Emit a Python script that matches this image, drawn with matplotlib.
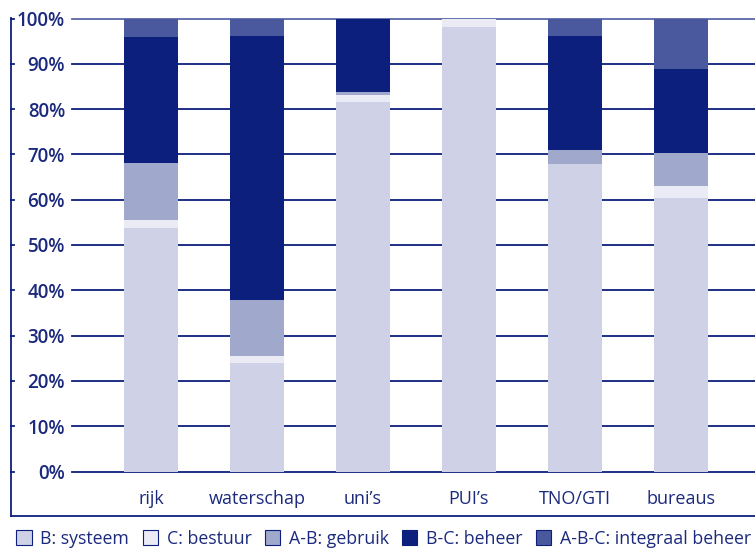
import matplotlib.pyplot as plt
from matplotlib.patches import Patch
from matplotlib.lines import Line2D
import numpy as np

plt.rcParams['font.family'] = ['Open Sans', 'DejaVu Sans']

# categorieën en aandelen per aspect (%)
groepen = ["rijk", "waterschap", "uni’s", "PUI’s", "TNO/GTI", "bureaus"]
systeem = [53.8, 24.0, 81.6, 98.1, 67.9, 60.4]
bestuur = [1.7, 1.5, 1.5, 1.9, 0.0, 2.6]
gebruik = [12.5, 12.4, 0.7, 0.0, 3.1, 7.3]
beheer = [28.0, 58.2, 16.2, 0.0, 25.1, 18.6]
integraal = [4.0, 3.9, 0.0, 0.0, 3.9, 11.1]

labels = ["B: systeem", "C: bestuur", "A-B: gebruik", "B-C: beheer", "A-B-C: integraal beheer"]
kleuren = ["#cfd2e6", "#ebebf5", "#a0a8cb", "#0d1f7c", "#4a589e"]
navy = "#0d1f7c"
tekst = "#1c2a7e"

fig = plt.figure(figsize=(7.55, 5.48), dpi=100)
ax = fig.add_axes([72 / 755, 1 - 471.5 / 548, 1 - 72 / 755, (471.5 - 18.5) / 548])

x = np.arange(len(groepen))
onder = np.zeros(len(groepen))
for waarden, kleur, naam in zip([systeem, bestuur, gebruik, beheer, integraal], kleuren, labels):
    ax.bar(x, waarden, width=0.51, bottom=onder, color=kleur, zorder=2, label=naam)
    onder += np.array(waarden)

# horizontale lijnen achter de staven
for y in range(0, 100, 10):
    ax.axhline(y, color=navy, lw=1.3, zorder=1, clip_on=False)
ax.axhline(100, color="#5a67a8", lw=1.3, zorder=1, clip_on=False)

ax.set_xlim(-0.745, 5.70)
ax.set_ylim(0, 100)
ax.set_yticks(range(0, 101, 10))
ax.set_yticklabels([f"{v}%" for v in range(0, 101, 10)], fontsize=13.5, fontweight="semibold", color=tekst)
ax.set_xticks(x)
ax.set_xticklabels(groepen, fontsize=13, color=tekst)
ax.tick_params(axis="y", length=0, pad=5)
ax.tick_params(axis="x", length=0, pad=13)
for s in ax.spines.values():
    s.set_visible(False)

# kader links en onder, met streepjes op de rasterhoogtes
fx = 11 / 755
fy_top = 1 - 18 / 548
fy_bot = 1 - 516 / 548
fig.add_artist(Line2D([fx, fx], [fy_bot, fy_top], color=navy, lw=1.3))
fig.add_artist(Line2D([fx, 1.0], [fy_bot, fy_bot], color=navy, lw=1.3))
for v in range(0, 101, 10):
    yy = 1 - (471.5 - 4.53 * v) / 548
    fig.add_artist(Line2D([fx, 14 / 755], [yy, yy], color=navy, lw=1.3))

handles = [Patch(facecolor=k, edgecolor=navy, linewidth=0.8) for k in kleuren]
fig.legend(handles, labels, loc="lower left", bbox_to_anchor=(4 / 755, -0.022), ncol=5,
           frameon=False, fontsize=12.8, handlelength=0.85, handleheight=0.85,
           handletextpad=0.5, columnspacing=0.75, borderpad=0.2, labelcolor=tekst)

fig.savefig("out.png", dpi=100)
